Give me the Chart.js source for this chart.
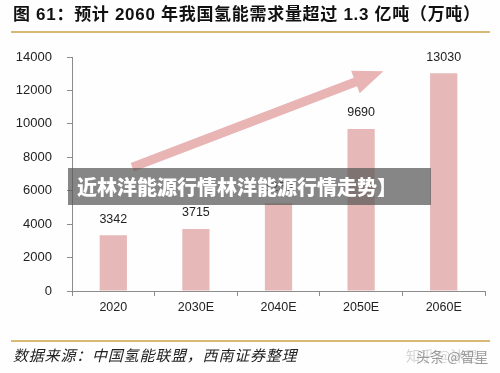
<!DOCTYPE html>
<html><head><meta charset="utf-8">
<script src="https://cdn.jsdelivr.net/npm/chart.js@4/dist/chart.umd.min.js"></script>
<style>
html,body{margin:0;padding:0;background:#fff;}
#wrap{position:relative;width:500px;height:373px;overflow:hidden;background:#fefefe;font-family:"Liberation Sans","Noto Sans CJK SC",sans-serif;}
#c{position:absolute;left:0;top:0;}
.title{position:absolute;left:13px;top:4px;font-size:17px;font-weight:bold;color:#111;white-space:nowrap;line-height:22px;letter-spacing:0.7px;font-family:"Liberation Sans","Noto Sans CJK SC",sans-serif;}
.rule{position:absolute;left:11px;width:479px;height:2px;background:#d9b978;}
.src{position:absolute;left:13px;top:345px;font-size:15px;line-height:20px;color:#222;font-style:italic;letter-spacing:0.8px;white-space:nowrap;font-family:"Noto Sans CJK SC",sans-serif;}
.wm1{position:absolute;left:406px;top:345px;font-size:14px;line-height:20px;color:#d4d4d4;white-space:nowrap;font-family:"Noto Sans CJK SC",sans-serif;}
.wm2{position:absolute;left:416px;top:346px;font-size:14px;line-height:20px;color:#9a9a9a;white-space:nowrap;font-family:"Noto Sans CJK SC",sans-serif;}
.banner{position:absolute;left:68px;top:168px;width:363px;height:37px;background:rgba(88,88,88,0.72);color:#fff;font-weight:900;font-size:20px;line-height:37px;padding-left:9px;box-sizing:border-box;white-space:nowrap;font-family:"Noto Sans CJK SC",sans-serif;}
</style></head>
<body>
<div id="wrap">
  <canvas id="c" width="500" height="373"></canvas>
  <div class="title">图 61：预计 2060 年我国氢能需求量超过 1.3 亿吨（万吨）</div>
  <div class="rule" style="top:31px"></div>
  <div class="banner">近林洋能源行情林洋能源行情走势】</div>
  <div class="rule" style="top:340px"></div>
  <div class="src">数据来源：中国氢能联盟，西南证券整理</div>
  <div class="wm1">知乎 @沐是</div>
  <div class="wm2">头条 @智星</div>
</div>
<script>
const categories = ['2020', '2030E', '2040E', '2050E', '2060E'];
const demand = [3342, 3715, 5250, 9690, 13030];
const yMin = 0;
const yMax = 14000;
const yStep = 2000;
// trend arrow annotation, in category-index / value units
const arrowTail = { index: 0.23, value: 7400 };
const arrowTip = { index: 3.27, value: 13150 };

const barColor = '#e6b9b8';
const axisColor = '#8c8c8c';

const deco = {
  id: 'deco',
  afterDatasetsDraw(chart) {
    const { ctx, scales: { x, y } } = chart;
    const x0 = x.getPixelForValue(0), x1 = x.getPixelForValue(1);
    const px = i => x0 + i * (x1 - x0);
    ctx.save();
    const tx = px(arrowTail.index), ty = y.getPixelForValue(arrowTail.value);
    const hx = px(arrowTip.index), hy = y.getPixelForValue(arrowTip.value);
    const dx = hx - tx, dy = hy - ty, len = Math.hypot(dx, dy);
    const ux = dx / len, uy = dy / len, nx = -uy, ny = ux;
    const sw = 4.5, hw = 12, hl = 30;
    const bx = hx - ux * hl, by = hy - uy * hl;
    ctx.beginPath();
    ctx.moveTo(tx + nx * sw, ty + ny * sw);
    ctx.lineTo(bx + nx * sw, by + ny * sw);
    ctx.lineTo(bx + nx * hw, by + ny * hw);
    ctx.lineTo(hx, hy);
    ctx.lineTo(bx - nx * hw, by - ny * hw);
    ctx.lineTo(bx - nx * sw, by - ny * sw);
    ctx.lineTo(tx - nx * sw, ty - ny * sw);
    ctx.closePath();
    ctx.fillStyle = '#e8b4b4';
    ctx.fill();
    const meta = chart.getDatasetMeta(0);
    ctx.font = '12.5px "Liberation Sans", Arial, sans-serif';
    ctx.fillStyle = '#222';
    ctx.textAlign = 'center';
    ctx.textBaseline = 'middle';
    meta.data.forEach((bar, i) => ctx.fillText(String(demand[i]), bar.x, bar.y - 16));
    ctx.restore();
  }
};

new Chart(document.getElementById('c'), {
  type: 'bar',
  data: {
    labels: categories,
    datasets: [{ data: demand, backgroundColor: barColor, borderWidth: 0, barPercentage: 0.33, categoryPercentage: 1 }]
  },
  options: {
    responsive: false,
    animation: false,
    layout: { padding: { top: 57, right: 15, left: 0, bottom: 0 } },
    plugins: { legend: { display: false }, tooltip: { enabled: false } },
    scales: {
      x: {
        grid: { offset: true, drawOnChartArea: false, drawTicks: true, tickLength: 5, color: axisColor },
        border: { color: axisColor, width: 1 },
        ticks: { color: '#222', font: { size: 12.5, family: '"Liberation Sans", Arial, sans-serif' }, padding: 4 },
        afterFit(s) { s.height = 82; }
      },
      y: {
        min: yMin, max: yMax,
        ticks: { stepSize: yStep, color: '#222', font: { size: 13, family: '"Liberation Sans", Arial, sans-serif' }, padding: 15, callback: v => String(v) },
        grid: { drawOnChartArea: false, drawTicks: true, tickLength: 5, color: axisColor },
        border: { color: axisColor, width: 1 },
        afterFit(s) { s.width = 72; }
      }
    }
  },
  plugins: [deco]
});
</script>
</body></html>
